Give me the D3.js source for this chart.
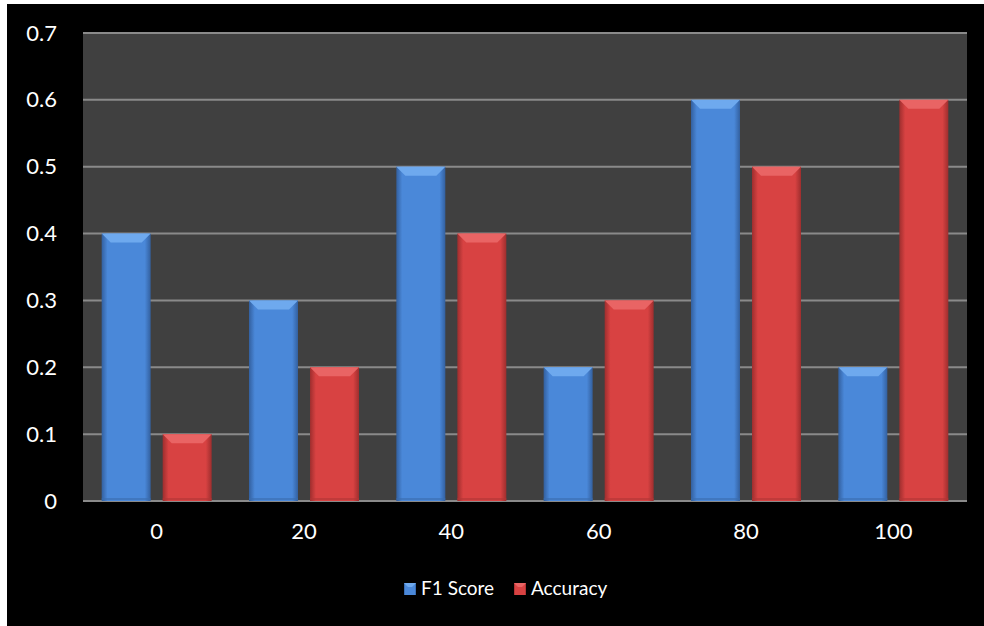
<!DOCTYPE html>
<html>
<head>
<meta charset="utf-8">
<script src="https://cdn.jsdelivr.net/npm/d3@7"></script>
<style>
  html, body { margin: 0; padding: 0; background: #ffffff; }
  svg { display: block; }
  text { font-family: Lato, "Open Sans", sans-serif; fill: #ffffff; }
</style>
</head>
<body>
<script>
// Chart data
const categories = ["0", "20", "40", "60", "80", "100"];
const seriesNames = ["F1 Score", "Accuracy"];
const f1Score = [0.4, 0.3, 0.5, 0.2, 0.6, 0.2];
const accuracy = [0.1, 0.2, 0.4, 0.3, 0.5, 0.6];
const yTicks = [0, 0.1, 0.2, 0.3, 0.4, 0.5, 0.6, 0.7];

const W = 984, H = 626;
const margin = { left: 83, right: 17, top: 33, bottom: 125 };

const svg = d3.select("body").append("svg")
  .attr("width", W).attr("height", H);

// Black chart area with a thin white border top-left
svg.append("rect").attr("x", 0).attr("y", 0).attr("width", W).attr("height", H).attr("fill", "#ffffff");
svg.append("rect").attr("x", 7).attr("y", 4).attr("width", W - 7).attr("height", H - 4).attr("fill", "#000000");

const x0 = d3.scaleBand().domain(categories)
  .range([margin.left, W - margin.right]).paddingInner(0).paddingOuter(0);
const y = d3.scaleLinear().domain([0, 0.7]).range([H - margin.bottom, margin.top]);

// Plot background
svg.append("rect")
  .attr("x", x0.range()[0]).attr("y", y(0.7))
  .attr("width", x0.range()[1] - x0.range()[0]).attr("height", y(0) - y(0.7))
  .attr("fill", "#404040");

// Gridlines
svg.append("g").selectAll("line").data(yTicks).join("line")
  .attr("x1", x0.range()[0]).attr("x2", x0.range()[1])
  .attr("y1", d => y(d)).attr("y2", d => y(d))
  .attr("stroke", "#8a8a8a").attr("stroke-width", 2);

// Y axis labels
const yAxis = d3.axisLeft(y).tickValues(yTicks).tickSize(0).tickPadding(0)
  .tickFormat(d => d === 0 ? "0" : d3.format(".1f")(d));
const gy = svg.append("g").attr("transform", `translate(${margin.left - 26},0)`).call(yAxis);
gy.select(".domain").remove();
gy.selectAll("text").attr("font-size", 22).attr("fill", "#fff")
  .style("font-family", "Lato, 'Open Sans', sans-serif");

// X axis labels
const xAxis = d3.axisBottom(x0).tickSize(0).tickPadding(0);
const gx = svg.append("g").attr("transform", `translate(0,${y(0) + 22})`).call(xAxis);
gx.select(".domain").remove();
gx.selectAll("text").attr("font-size", 22).attr("fill", "#fff")
  .style("font-family", "Lato, 'Open Sans', sans-serif");

// Bar palettes
const palettes = {
  "F1 Score": { id: "gBlue", edge: "#33609f", mid: "#4a88d9", top: "#6ea9ee", topEdge: "#5b98e3", bottom: "#3a6cae" },
  "Accuracy": { id: "gRed", edge: "#9e2e2e", mid: "#d84242", top: "#e96464", topEdge: "#e05252", bottom: "#b03636" }
};

const defs = svg.append("defs");
Object.values(palettes).forEach(p => {
  const g = defs.append("linearGradient").attr("id", p.id)
    .attr("x1", "0%").attr("x2", "100%").attr("y1", "0%").attr("y2", "0%");
  g.append("stop").attr("offset", "0%").attr("stop-color", p.edge);
  g.append("stop").attr("offset", "12%").attr("stop-color", p.mid);
  g.append("stop").attr("offset", "88%").attr("stop-color", p.mid);
  g.append("stop").attr("offset", "100%").attr("stop-color", p.edge);
});

const x1 = d3.scaleBand().domain(seriesNames).range([0, x0.bandwidth()])
  .paddingInner(0.197).paddingOuter(0.306);

const rows = categories.map((c, i) => ({ cat: c, vals: [
  { name: "F1 Score", v: f1Score[i] },
  { name: "Accuracy", v: accuracy[i] }
]}));

const bev = 9;
const groups = svg.append("g").selectAll("g").data(rows).join("g")
  .attr("transform", d => `translate(${x0(d.cat)},0)`);

const bars = groups.selectAll("g").data(d => d.vals).join("g");

bars.each(function(d) {
  const g = d3.select(this);
  const p = palettes[d.name];
  const bx = x1(d.name), bw = x1.bandwidth();
  const by = y(d.v), bh = y(0) - y(d.v);
  g.append("rect").attr("x", bx).attr("y", by).attr("width", bw).attr("height", bh)
    .attr("fill", `url(#${p.id})`);
  // bevelled top face
  g.append("path")
    .attr("d", `M${bx},${by} L${bx + bw},${by} L${bx + bw - bev},${by + bev} L${bx + bev},${by + bev} Z`)
    .attr("fill", p.top);
  // darker bottom lip
  g.append("rect").attr("x", bx).attr("y", y(0) - 3).attr("width", bw).attr("height", 2)
    .attr("fill", p.bottom).attr("opacity", 0.6);
});

// Legend
const legendY = 589;
const legendItems = [
  { name: "F1 Score", x: 404 },
  { name: "Accuracy", x: 514 }
];
const lg = svg.append("g").selectAll("g").data(legendItems).join("g")
  .attr("transform", d => `translate(${d.x},${legendY - 6})`);
lg.append("rect").attr("width", 12).attr("height", 12)
  .attr("fill", d => `url(#${palettes[d.name].id})`);
lg.append("path").attr("d", "M0,0 L12,0 L8,4 L4,4 Z")
  .attr("fill", d => palettes[d.name].top);
lg.append("text").attr("x", 17).attr("y", 12)
  .attr("font-size", 19).text(d => d.name);
</script>
</body>
</html>
